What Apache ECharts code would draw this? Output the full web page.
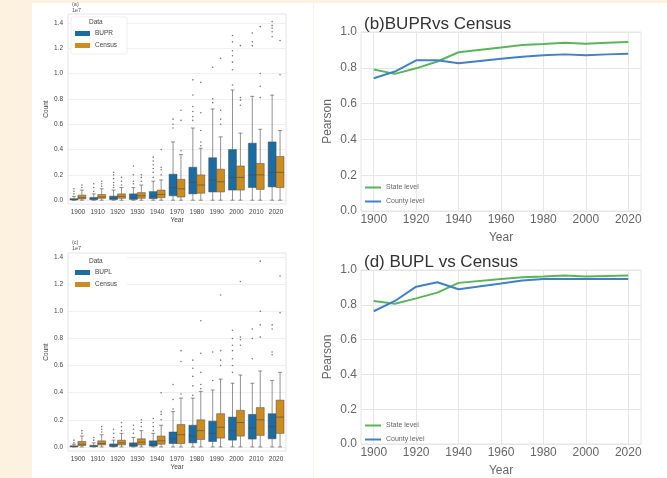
<!DOCTYPE html>
<html><head><meta charset="utf-8">
<script src="https://cdn.jsdelivr.net/npm/echarts@6/dist/echarts.min.js"></script>
<style>html,body{margin:0;padding:0;background:#fff}#c{width:667px;height:478px}</style>
</head><body><div id="c"></div><script>
// ---------- data ----------
const boxYears = ['1900','1910','1920','1930','1940','1970','1980','1990','2000','2010','2020'];
// [min, q1, median, q3, max] in units of 1e7
const buprBox = [
  [0,0.002,0.005,0.012,0.03],[0,0.004,0.01,0.022,0.05],[0,0.005,0.015,0.032,0.08],
  [0,0.006,0.02,0.05,0.1],[0,0.012,0.03,0.068,0.15],[0,0.035,0.1,0.205,0.46],
  [0,0.05,0.14,0.26,0.57],[0,0.065,0.16,0.335,0.72],[0,0.08,0.18,0.4,0.87],
  [0,0.1,0.2,0.45,0.82],[0,0.105,0.22,0.46,0.83]];
const buprOut = [
  [0.05,0.07,0.09],[0.07,0.1,0.13],[0.1,0.12,0.14,0.17,0.2,0.22],[0.13,0.15,0.2,0.27],
  [0.18,0.22,0.25,0.28,0.31,0.34],[0.57,0.6,0.64],[0.63,0.66,0.7,0.74,0.83,0.95],
  [0.77,0.8,1.05],[0.91,1.03,1.09,1.14,1.18,1.25,1.3],[1.22,1.25,1.32],[1.29,1.33,1.36,1.38,1.41]];
const censusBox = [
  [0,0.01,0.02,0.04,0.08],[0,0.015,0.025,0.045,0.09],[0,0.015,0.03,0.05,0.1],
  [0,0.015,0.035,0.06,0.12],[0,0.02,0.045,0.08,0.16],[0,0.025,0.09,0.165,0.36],
  [0,0.055,0.12,0.2,0.41],[0,0.065,0.145,0.245,0.5],[0,0.08,0.18,0.27,0.53],
  [0,0.085,0.2,0.29,0.56],[0,0.1,0.22,0.345,0.55]];
const censusOut = [
  [0.1,0.12],[0.11,0.13,0.15],[0.12,0.15,0.18],[0.15,0.18,0.2],[0.2,0.24,0.26,0.4],
  [0.39,0.63,0.71],[0.43,0.46,0.55,0.69,0.93],[0.6,0.64,0.71,1.12],[0.75,0.79,0.81,1.22],
  [0.81,0.9,1.0,1.37],[0.99,1.26]];
const buplBox = [
  [0,0.001,0.003,0.008,0.02],[0,0.002,0.005,0.012,0.03],[0,0.003,0.008,0.022,0.05],
  [0,0.004,0.012,0.03,0.07],[0,0.006,0.018,0.045,0.1],[0,0.025,0.06,0.11,0.26],
  [0,0.03,0.08,0.16,0.36],[0,0.04,0.1,0.19,0.42],[0,0.05,0.12,0.22,0.47],
  [0,0.058,0.14,0.24,0.47],[0,0.06,0.15,0.245,0.49]];
const buplOut = [
  [0.03,0.05],[0.05,0.07],[0.07,0.1,0.13],[0.1,0.13,0.16],[0.12,0.15,0.18,0.21],
  [0.28,0.35,0.46],[0.38,0.45,0.52,0.58,0.64],[0.49,0.7],[0.55,0.6,0.65,0.71,0.75,0.8,0.86],
  [0.65,0.8,0.87],[0.68,0.7,0.87,0.9]];
const countTicks = [0,0.2,0.4,0.6,0.8,1.0,1.2,1.4];

const lineYears = [1900,1910,1920,1930,1940,1960,1970,1980,1990,2000,2010,2020];
const bState  = [0.79,0.766,0.797,0.835,0.887,0.913,0.927,0.933,0.94,0.935,0.94,0.944];
const bCounty = [0.742,0.779,0.842,0.842,0.825,0.851,0.862,0.87,0.875,0.87,0.875,0.879];
const dState  = [0.822,0.806,0.837,0.87,0.926,0.948,0.959,0.963,0.968,0.963,0.966,0.968];
const dCounty = [0.763,0.822,0.904,0.93,0.889,0.922,0.939,0.948,0.948,0.948,0.948,0.948];
const yearTicks = [1900,1920,1940,1960,1980,2000,2020];

// ---------- styling ----------
const BLUE = '#1b6ca2', ORANGE = '#cc8c1e', EDGE = '#4a4a4a';
const GREEN_L = '#5ab55a', BLUE_L = '#4181c8';
const BEIGE = '#fcf2df';
const FONT = 'Liberation Sans';

function boxSeries(name, data, g, off, color) {
  return {
    type: 'custom', name, xAxisIndex: g, yAxisIndex: g,
    itemStyle: { color },
    data: data.map((d, i) => [i].concat(d)),
    encode: { x: 0, y: [1, 2, 3, 4, 5] },
    renderItem: (params, api) => {
      const i = api.value(0);
      const bw = api.size([1, 0])[0];
      const cx = api.coord([i, 0])[0] + off * bw;
      const w = bw * 0.4;
      const pMin = api.coord([i, api.value(1)])[1];
      const pQ1 = api.coord([i, api.value(2)])[1];
      const pMed = api.coord([i, api.value(3)])[1];
      const pQ3 = api.coord([i, api.value(4)])[1];
      const pMax = api.coord([i, api.value(5)])[1];
      const ls = { stroke: EDGE, lineWidth: 0.6 };
      return { type: 'group', children: [
        { type: 'line', shape: { x1: cx, y1: pQ3, x2: cx, y2: pMax }, style: ls },
        { type: 'line', shape: { x1: cx, y1: pQ1, x2: cx, y2: pMin }, style: ls },
        { type: 'line', shape: { x1: cx - w / 4, y1: pMax, x2: cx + w / 4, y2: pMax }, style: ls },
        { type: 'line', shape: { x1: cx - w / 4, y1: pMin, x2: cx + w / 4, y2: pMin }, style: ls },
        { type: 'rect', shape: { x: cx - w / 2, y: pQ3, width: w, height: Math.max(pQ1 - pQ3, 0.8) },
          style: { fill: color, stroke: EDGE, lineWidth: 0.5 } },
        { type: 'line', shape: { x1: cx - w / 2, y1: pMed, x2: cx + w / 2, y2: pMed }, style: { stroke: EDGE, lineWidth: 0.6 } }
      ]};
    }
  };
}
function outSeries(name, out, g, off) {
  const pts = [];
  out.forEach((arr, i) => arr.forEach(v => pts.push([i, v])));
  return {
    type: 'custom', name, xAxisIndex: g, yAxisIndex: g, data: pts,
    encode: { x: 0, y: 1 },
    renderItem: (params, api) => {
      const bw = api.size([1, 0])[0];
      const p = api.coord([api.value(0), api.value(1)]);
      return { type: 'circle', shape: { cx: p[0] + off * bw, cy: p[1], r: 0.8 },
        style: { fill: '#777' } };
    }
  };
}

const smallLbl = { color: '#444', fontSize: 6.5, fontFamily: FONT };
function boxX(g) {
  return { type: 'category', gridIndex: g, data: boxYears,
    axisLine: { show: false }, axisTick: { show: false }, splitLine: { show: false },
    axisLabel: Object.assign({ margin: 5, interval: 0 }, smallLbl),
    name: 'Year', nameLocation: 'middle', nameGap: 12, nameTextStyle: smallLbl };
}
function boxY(g, max) {
  return { type: 'value', gridIndex: g, min: -0.03, max,
    axisLine: { show: false }, axisTick: { show: false, customValues: countTicks },
    splitLine: { lineStyle: { color: '#ebebeb', width: 0.8 } },
    axisLabel: Object.assign({ margin: 5, customValues: countTicks, formatter: v => v.toFixed(1) }, smallLbl),
    name: 'Count', nameLocation: 'middle', nameGap: 18, nameTextStyle: smallLbl };
}
const bigLbl = { color: '#666', fontSize: 12, fontFamily: FONT };
function lineX(g) {
  return { type: 'value', gridIndex: g, min: 1894, max: 2026,
    axisLine: { show: false }, axisTick: { show: false, customValues: yearTicks },
    splitLine: { lineStyle: { color: '#e6e6e6', width: 1 } },
    axisLabel: Object.assign({ margin: 3, customValues: yearTicks, formatter: v => String(v) }, bigLbl),
    name: 'Year', nameLocation: 'middle', nameGap: 21, nameTextStyle: bigLbl };
}
function lineY(g) {
  return { type: 'value', gridIndex: g, min: 0, max: 1, interval: 0.2,
    axisLine: { show: false }, axisTick: { show: false },
    splitLine: { lineStyle: { color: '#e6e6e6', width: 1 } },
    axisLabel: Object.assign({ margin: 4, formatter: v => v.toFixed(1) }, bigLbl),
    name: 'Pearson', nameLocation: 'middle', nameGap: 27, nameTextStyle: bigLbl };
}
function lineSeries(name, ys, g, color) {
  return { type: 'line', name, xAxisIndex: g, yAxisIndex: g,
    data: lineYears.map((y, i) => [y, ys[i]]), symbol: 'none',
    lineStyle: { color, width: 2 }, itemStyle: { color } };
}
const gridBorder = { show: true, borderColor: '#e4e4e4', borderWidth: 1, backgroundColor: 'transparent' };

const chart = echarts.init(document.getElementById('c'), null, { renderer: 'canvas' });
chart.setOption({
  backgroundColor: '#ffffff',
  animation: false,
  title: [
    { text: '(b)BUPRvs Census', left: 359, top: 11, textStyle: { fontSize: 17, fontWeight: 'normal', color: '#333', fontFamily: FONT } },
    { text: '(d) BUPL vs Census', left: 359, top: 249, textStyle: { fontSize: 17, fontWeight: 'normal', color: '#333', fontFamily: FONT } }
  ],
  grid: [
    Object.assign({ left: 68, right: 381, top: 14, bottom: 274 }, gridBorder),
    Object.assign({ left: 68, right: 381, top: 253, bottom: 27 }, gridBorder),
    Object.assign({ left: 361, right: 26, top: 32, bottom: 267 }, gridBorder),
    Object.assign({ left: 361, right: 26, top: 270, bottom: 28 }, gridBorder)
  ],
  xAxis: [boxX(0), boxX(1), lineX(2), lineX(3)],
  yAxis: [boxY(0, 1.47), boxY(1, 1.43), lineY(2), lineY(3)],
  legend: [
    { data: ['BUPR', 'Census'], left: 71, top: 17, orient: 'vertical', icon: 'rect',
      itemWidth: 15, itemHeight: 5, itemGap: 5, padding: [13, 10, 5, 4],
      backgroundColor: '#fff', borderColor: '#e2e2e2', borderWidth: 0.6, borderRadius: 2,
      textStyle: { fontSize: 6.5, color: '#444', fontFamily: FONT } },
    { data: ['BUPL', 'Census'], left: 71, top: 256, orient: 'vertical', icon: 'rect',
      itemWidth: 15, itemHeight: 5, itemGap: 5, padding: [13, 10, 5, 4],
      backgroundColor: '#fff', borderColor: '#fff', borderWidth: 0,
      textStyle: { fontSize: 6.5, color: '#444', fontFamily: FONT } },
    { data: ['State level', 'County level'], left: 365, top: 184, orient: 'vertical', icon: 'rect',
      itemWidth: 16, itemHeight: 2, itemGap: 7, padding: 0,
      textStyle: { fontSize: 7, color: '#666', fontFamily: FONT } },
    { data: ['State level ', 'County level '], left: 365, top: 422, orient: 'vertical', icon: 'rect',
      itemWidth: 16, itemHeight: 2, itemGap: 7, padding: 0,
      formatter: n => n.trim(),
      textStyle: { fontSize: 7, color: '#666', fontFamily: FONT } }
  ],
  graphic: [
    { type: 'rect', shape: { x: 0, y: 0, width: 32, height: 478 }, style: { fill: BEIGE }, silent: true, z: -10 },
    { type: 'rect', shape: { x: 32, y: 0, width: 635, height: 3 }, style: { fill: BEIGE }, silent: true, z: -10 },
    { type: 'line', shape: { x1: 313.5, y1: 0, x2: 313.5, y2: 478 }, style: { stroke: '#fbf3e6', lineWidth: 1 }, silent: true, z: -9 },
    { type: 'text', left: 72, top: 1, style: { text: '(a)', fontSize: 5.5, fill: '#555', fontFamily: FONT } },
    { type: 'text', left: 72, top: 7, style: { text: '1e7', fontSize: 5.5, fill: '#555', fontFamily: FONT } },
    { type: 'text', left: 72, top: 239, style: { text: '(c)', fontSize: 5.5, fill: '#555', fontFamily: FONT } },
    { type: 'text', left: 72, top: 245, style: { text: '1e7', fontSize: 5.5, fill: '#555', fontFamily: FONT } },
    { type: 'text', left: 89, top: 19, z: 100, style: { text: 'Data', fontSize: 6.5, fill: '#444', fontFamily: FONT } },
    { type: 'text', left: 89, top: 258, z: 100, style: { text: 'Data', fontSize: 6.5, fill: '#444', fontFamily: FONT } }
  ],
  series: [
    boxSeries('BUPR', buprBox, 0, -0.2, BLUE),
    boxSeries('Census', censusBox, 0, 0.2, ORANGE),
    outSeries('BUPR outliers', buprOut, 0, -0.2),
    outSeries('Census outliers', censusOut, 0, 0.2),
    boxSeries('BUPL', buplBox, 1, -0.2, BLUE),
    boxSeries('Census', censusBox, 1, 0.2, ORANGE),
    outSeries('BUPL outliers', buplOut, 1, -0.2),
    outSeries('Census outliers ', censusOut, 1, 0.2),
    lineSeries('State level', bState, 2, GREEN_L),
    lineSeries('County level', bCounty, 2, BLUE_L),
    lineSeries('State level ', dState, 3, GREEN_L),
    lineSeries('County level ', dCounty, 3, BLUE_L)
  ]
});
</script></body></html>
